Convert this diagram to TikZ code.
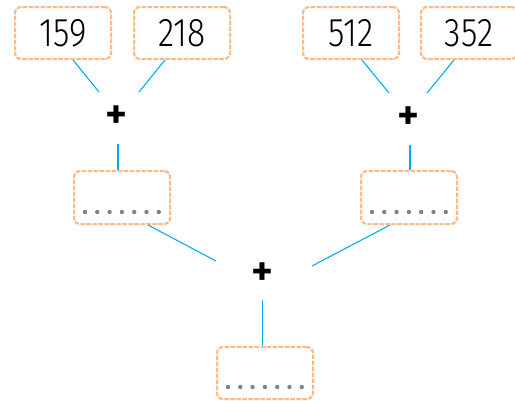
\documentclass[tikz,border=0pt]{standalone}
\usepackage{fontspec}
\setmainfont{Fira Sans}[UprightFont=* Light, BoldFont=* SemiBold]
\usetikzlibrary{calc}
\definecolor{boxorange}{RGB}{247,150,70}
\definecolor{linkblue}{RGB}{0,174,239}
\definecolor{dotgray}{RGB}{128,128,135}
\newcommand{\numtext}[1]{\scalebox{0.84}[1]{\fontsize{40}{40}\selectfont #1}}

\begin{document}
\begin{tikzpicture}[x=1pt,y=-1pt,
  numbox/.style={rectangle, rounded corners=6pt, minimum width=96pt, minimum height=52pt, line width=2pt,
    preaction={draw=boxorange!30}, draw=boxorange!65, dash pattern=on 4.5pt off 1.5pt},
  link/.style={draw=linkblue, line width=1.1pt},
  plussign/.style={font=\bfseries\fontsize{42}{42}\selectfont, inner sep=0pt}]
\useasboundingbox (0,0) rectangle (515,400);
\node[numbox] (b1) at (63,33) {\numtext{159}}; \node[numbox] (b2) at (182,33) {\numtext{218}};
\node[numbox] (b3) at (351,33) {\numtext{512}}; \node[numbox] (b4) at (469,33) {\numtext{352}};
\node[plussign] (p1) at (116,117) {+}; \node[plussign] (p2) at (408,118) {+}; \node[plussign] (p3) at (262,274) {+};
\node[numbox, minimum height=53pt] (m1) at (122,197.5) {}; \node[numbox, minimum height=53pt] (m2) at (409,197.5) {};
\node[numbox] (r) at (265,373) {};
% answer dots
\foreach \bx in {m1,m2,r} \foreach \i in {0,...,6} \fill[dotgray] ($(\bx.south west)+(12+12.3*\i,-13)$) circle (2.2pt);
% connectors
\coordinate (c1) at (99,92); \coordinate (c2) at (139,92); \coordinate (c3) at (389,93); \coordinate (c4) at (427,93);
\coordinate (v1) at (118,144); \coordinate (v2) at (410,145); \coordinate (v3) at (262.7,300);
\coordinate (d1) at (216,261); \coordinate (d2) at (312,266);
\draw[link] ([xshift=10]b1.south) -- (c1); \draw[link] ([xshift=-17]b2.south) -- (c2);
\draw[link] ([xshift=11]b3.south) -- (c3); \draw[link] ([xshift=-15]b4.south) -- (c4);
\draw[link] (v1) -- (v1 |- m1.north); \draw[link] (v2) -- (v2 |- m2.north);
\draw[link] ([xshift=26]m1.south) -- (d1); \draw[link] ([xshift=-19]m2.south) -- (d2);
\draw[link] (v3) -- (v3 |- r.north);
\end{tikzpicture}
\end{document}
